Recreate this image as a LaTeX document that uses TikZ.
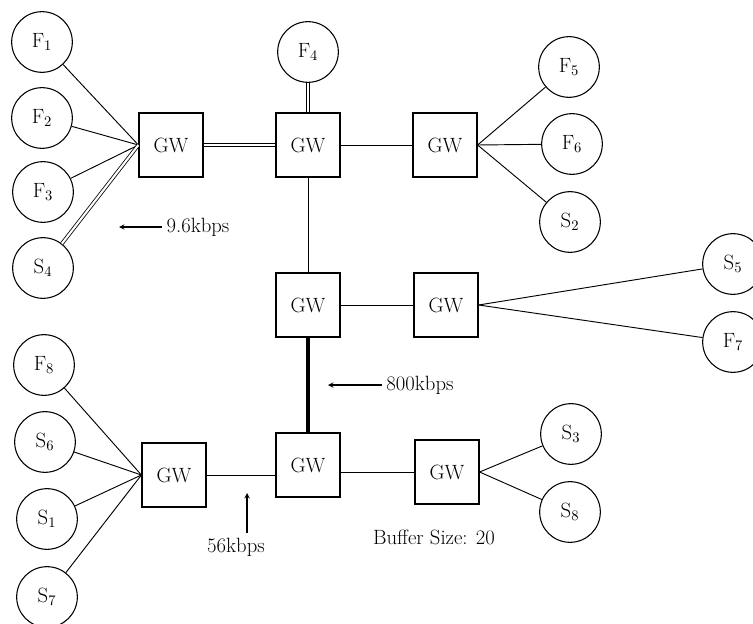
\documentclass[tikz,border=0pt]{standalone}
\usepackage{tikz}
\usetikzlibrary{positioning,calc}

\begin{document}
\begin{tikzpicture}[
    x=0.75pt, y=-0.75pt,
    font=\fontsize{15.5}{18}\selectfont,
    >=stealth,
    gw/.style={draw, line width=0.9pt, minimum width=48pt, minimum height=48pt,
               inner sep=0pt},
    host/.style={draw, circle, line width=0.8pt, minimum size=45.5pt, inner sep=0pt},
    link/.style={line width=0.7pt},
    dlink/.style={double, double distance=1.6pt, line width=0.6pt},
    fast/.style={line width=3pt},
    arr/.style={->, line width=0.8pt},
  ]
  \useasboundingbox (0,0) rectangle (753,624);

  % ---------------------------------------------------------------
  % Gateways
  % ---------------------------------------------------------------
  \node[gw] (GW1) at (171,145) {GW};
  \node[gw] (GW2) at (308,145) {GW};
  \node[gw] (GW3) at (445,145) {GW};
  \node[gw] (GW4) at (308,305) {GW};
  \node[gw] (GW5) at (446,305) {GW};
  \node[gw] (GW6) at (174,475) {GW};
  \node[gw] (GW7) at (308,465) {GW};
  \node[gw] (GW8) at (447,472) {GW};

  % ---------------------------------------------------------------
  % Hosts (F = foreground, S = source)
  % ---------------------------------------------------------------
  \node[host] (F1) at (42,42) {F$_1$};
  \node[host] (F2) at (42,118) {F$_2$};
  \node[host] (F3) at (43,192) {F$_3$};
  \node[host] (S4) at (43,268) {S$_4$};
  \node[host] (F4) at (308,52) {F$_4$};
  \node[host] (F5) at (569,67) {F$_5$};
  \node[host] (F6) at (572,144) {F$_6$};
  \node[host] (S2) at (570,222) {S$_2$};
  \node[host] (S5) at (733,264) {S$_5$};
  \node[host] (F7) at (733,342) {F$_7$};
  \node[host] (F8) at (44,365) {F$_8$};
  \node[host] (S6) at (45,442) {S$_6$};
  \node[host] (S1) at (47,519) {S$_1$};
  \node[host] (S7) at (47,597) {S$_7$};
  \node[host] (S3) at (571,434) {S$_3$};
  \node[host] (S8) at (570,512) {S$_8$};

  % ---------------------------------------------------------------
  % Links
  % ---------------------------------------------------------------
  \draw[link] (F1) -- (GW1.west);
  \draw[link] (F2) -- (GW1.west);
  \draw[link] (F3) -- (GW1.west);
  \draw[dlink] (S4) -- (GW1.west);
  \draw[dlink] (GW1) -- (GW2);
  \draw[dlink] (F4) -- (GW2);
  \draw[link] (GW2) -- (GW3);
  \draw[link] (GW3.east) -- (F5);
  \draw[link] (GW3.east) -- (F6);
  \draw[link] (GW3.east) -- (S2);
  \draw[link] (GW2) -- (GW4);
  \draw[link] (GW4) -- (GW5);
  \draw[link] (GW5.east) -- (S5);
  \draw[link] (GW5.east) -- (F7);
  \draw[fast] (GW4) -- (GW7);
  \draw[link] (F8) -- (GW6.west);
  \draw[link] (S6) -- (GW6.west);
  \draw[link] (S1) -- (GW6.west);
  \draw[link] (S7) -- (GW6.west);
  \draw[link] (GW6.east) -- (GW6.east -| GW7.west);
  \draw[link] (GW8.west -| GW7.east) -- (GW8.west);
  \draw[link] (GW8.east) -- (S3);
  \draw[link] (GW8.east) -- (S8);

  % ---------------------------------------------------------------
  % Link speed labels
  % ---------------------------------------------------------------
  \node (lbl96) at (198,227) {9.6kbps};
  \coordinate (a96) at (119,227);
  \draw[arr] (lbl96.west) -- (a96);

  \node (lbl800) at (420,385) {800kbps};
  \coordinate (a800) at (328,385);
  \draw[arr] (lbl800.west) -- (a800);

  \node (lbl56) at (236,547) {56kbps};
  \coordinate (a56) at (247,493);
  \draw[arr] (lbl56.north -| a56) -- (a56);

  \node (buf) at (434,537) {Buffer Size: 20};
\end{tikzpicture}
\end{document}
